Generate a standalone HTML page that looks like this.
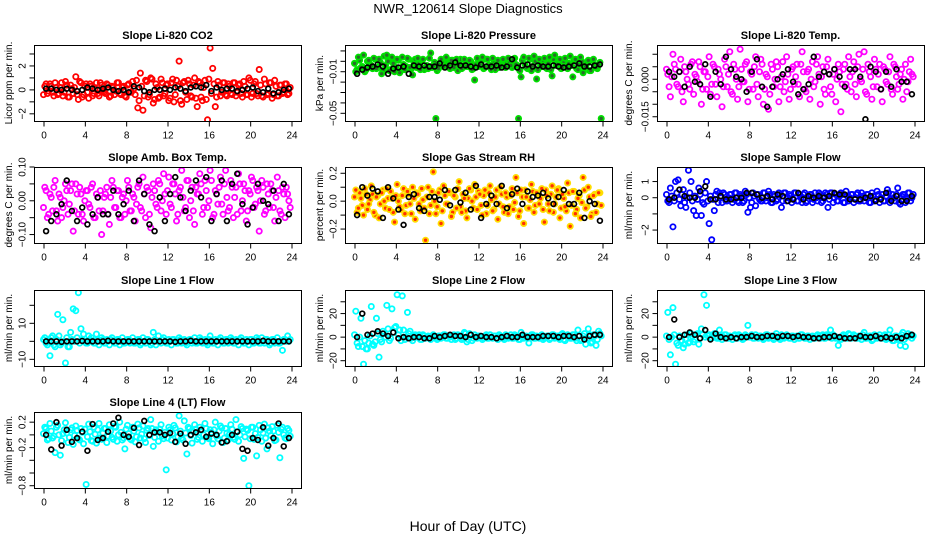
<!DOCTYPE html>
<html><head><meta charset="utf-8">
<style>
html,body{margin:0;padding:0;background:#fff;}
svg{display:block;font-family:"Liberation Sans",Arial,sans-serif;}
</style></head>
<body>
<svg id="chart" width="936" height="540" xmlns="http://www.w3.org/2000/svg">
<rect x="0" y="0" width="936" height="540" fill="#fff"/>
<text x="468" y="13" text-anchor="middle" font-size="13">NWR_120614  Slope Diagnostics</text>
<text x="468" y="531" text-anchor="middle" font-size="14">Hour of Day (UTC)</text>
</svg>
<script>
// shared hour arrays
const hoursColor = [0.125,0.375,0.625,0.875,1.125,1.375,1.625,1.875,2.125,2.375,2.625,2.875,3.125,3.375,3.625,3.875,4.125,4.375,4.625,4.875,5.125,5.375,5.625,5.875,6.125,6.375,6.625,6.875,7.125,7.375,7.625,7.875,8.125,8.375,8.625,8.875,9.125,9.375,9.625,9.875,10.125,10.375,10.625,10.875,11.125,11.375,11.625,11.875,12.125,12.375,12.625,12.875,13.125,13.375,13.625,13.875,14.125,14.375,14.625,14.875,15.125,15.375,15.625,15.875,16.125,16.375,16.625,16.875,17.125,17.375,17.625,17.875,18.125,18.375,18.625,18.875,19.125,19.375,19.625,19.875,20.125,20.375,20.625,20.875,21.125,21.375,21.625,21.875,22.125,22.375,22.625,22.875,23.125,23.375,23.625,23.875];
const hoursColor2 = [0.0,0.25,0.5,0.75,1.0,1.25,1.5,1.75,2.0,2.25,2.5,2.75,3.0,3.25,3.5,3.75,4.0,4.25,4.5,4.75,5.0,5.25,5.5,5.75,6.0,6.25,6.5,6.75,7.0,7.25,7.5,7.75,8.0,8.25,8.5,8.75,9.0,9.25,9.5,9.75,10.0,10.25,10.5,10.75,11.0,11.25,11.5,11.75,12.0,12.25,12.5,12.75,13.0,13.25,13.5,13.75,14.0,14.25,14.5,14.75,15.0,15.25,15.5,15.75,16.0,16.25,16.5,16.75,17.0,17.25,17.5,17.75,18.0,18.25,18.5,18.75,19.0,19.25,19.5,19.75,20.0,20.25,20.5,20.75,21.0,21.25,21.5,21.75,22.0,22.25,22.5,22.75,23.0,23.25,23.5,23.75];
const hoursBlack = [0.25,0.75,1.25,1.75,2.25,2.75,3.25,3.75,4.25,4.75,5.25,5.75,6.25,6.75,7.25,7.75,8.25,8.75,9.25,9.75,10.25,10.75,11.25,11.75,12.25,12.75,13.25,13.75,14.25,14.75,15.25,15.75,16.25,16.75,17.25,17.75,18.25,18.75,19.25,19.75,20.25,20.75,21.25,21.75,22.25,22.75,23.25,23.75];
const xTicks = [0,4,8,12,16,20,24];

const co2Vals = [0.3,-0.3,0.5,-0.2,0.6,-0.4,0.2,-0.5,0.7,-0.6,0.4,-0.3, 1.1,-0.8,0.6,-0.4,0.5,-0.7,0.3,-0.3,0.6,-0.5,0.4,-0.2, 0.5,-0.6,0.3,-0.4,0.6,-0.3,0.2,-0.5,0.4,-0.2,0.7,-0.4, -1.5,1.4,-1.7,0.8,-0.6,1.0,-1.1,0.5,-0.7,0.9,-0.5,0.4, -0.9,0.6,-1.0,0.8,2.4,-1.2,0.7,-0.8,0.5,-0.6,1.0,-1.4, 0.6,-0.9,0.8,-2.5,3.5,1.8,-1.4,0.7,-0.5,0.6,-0.4,0.5, -0.3,0.6,-0.5,0.4,-0.3,0.7,-0.4,1.0,-0.6,0.5,-0.3,1.7, -0.5,0.9,-0.4,0.6,-0.7,0.8,-0.5,0.4,-0.3,0.5,-0.4,0.2];
const co2Vals2 = [-0.4,0.5,-0.1,0.3,-0.5,0.2,-0.3,0.6,-0.2,0.4,-0.6,0.1, 0.2,-0.4,0.7,-0.6,0.3,-0.2,0.5,-0.5,0.1,-0.3,0.6,-0.1, -0.3,0.4,-0.5,0.2,-0.1,0.6,-0.4,0.3,-0.6,0.5,-0.2,0.1, 0.8,-0.9,0.3,-0.5,0.7,-0.4,0.9,-0.8,0.2,-0.6,0.6,-0.3, 0.5,-0.7,0.9,-0.4,0.3,-0.9,0.6,-0.2,0.8,-0.5,0.4,-0.7, 0.7,-0.6,0.2,-0.8,0.9,-0.3,0.5,-0.6,0.4,-0.2,0.6,-0.5, 0.3,-0.4,0.6,-0.2,0.5,-0.6,0.3,-0.4,0.8,-0.3,0.7,-0.5, 0.4,-0.6,0.5,-0.3,0.6,-0.4,0.3,-0.5,0.4,-0.2,0.5,-0.3];
const co2Mean = [0.1,0.1,0.0,0.0,0.1,0.0,-0.1,0.0,0.2,0.1,0.0,0.1,0.2,0.0,-0.1,0.0,-0.2,0.3,0.2,-0.1,-0.2,0.0,0.0,0.1,0.0,0.2,0.1,-0.1,0.2,0.3,0.2,0.4,-0.1,0.2,0.0,0.1,0.1,-0.1,0.0,0.1,0.2,-0.1,-0.2,0.1,-0.3,-0.2,0.0,0.1];

const presVals = [-0.010,0.004,-0.006,0.006,-0.008,0.001,-0.004,0.003,-0.007,0.002,-0.012,0.005, 0.006,-0.009,0.004,-0.010,0.002,-0.011,0.004,-0.008,0.003,-0.006,-0.013,0.002, 0.003,-0.008,0.002,-0.006,-0.007,0.008,-0.004,-0.055,-0.007,0.002,-0.005,0.004, -0.003,0.001,-0.006,0.002,-0.004,-0.007,0.002,-0.005,0.001,-0.008,-0.018,0.003, -0.003,0.004,-0.006,0.002,-0.004,0.003,-0.008,0.001,-0.005,0.002,-0.006,0.003, -0.004,0.002,-0.003,-0.055,-0.015,0.004,-0.006,0.003,-0.009,0.005,-0.017,0.002, -0.005,0.003,-0.007,0.004,-0.014,0.006,-0.003,0.002,-0.006,0.003,-0.007,0.005, -0.015,0.002,-0.008,0.004,-0.011,-0.005,0.001,-0.009,0.002,-0.006,-0.003,-0.055];
const presVals2 = [-0.002,-0.008,0.001,-0.005,-0.010,0.000,-0.003,-0.007,0.002,-0.006,-0.001,-0.009, -0.004,0.000,-0.008,-0.002,-0.006,0.001,-0.009,-0.003,-0.005,0.002,-0.007,-0.001, -0.006,-0.002,0.001,-0.008,-0.004,0.003,-0.006,-0.001,-0.009,-0.003,0.000,-0.005, -0.002,-0.007,0.001,-0.004,-0.009,0.002,-0.006,-0.002,-0.005,0.000,-0.007,-0.003, -0.005,-0.001,-0.007,0.002,-0.004,-0.008,0.000,-0.003,-0.006,0.001,-0.005,-0.002, -0.001,-0.006,0.003,-0.004,-0.009,0.001,-0.003,-0.007,0.002,-0.005,0.000,-0.008, -0.003,0.001,-0.006,-0.002,-0.008,0.002,-0.004,-0.001,-0.007,0.000,-0.005,-0.002, -0.004,0.001,-0.007,-0.003,0.000,-0.006,-0.002,-0.009,0.001,-0.004,-0.007,-0.001];
const presMean = [-0.012,-0.008,-0.006,-0.005,-0.003,-0.005,-0.012,-0.007,-0.006,-0.005,-0.012,-0.004,-0.005,-0.004,-0.005,-0.005,-0.002,-0.006,-0.004,-0.001,-0.004,-0.004,-0.005,-0.006,-0.003,-0.005,-0.005,-0.004,-0.006,-0.005,0.002,-0.006,-0.004,-0.003,-0.005,-0.004,-0.005,-0.005,-0.004,-0.005,-0.006,-0.005,-0.004,-0.002,-0.005,-0.005,-0.004,-0.003];

const tempVals = [0.002,-0.007,0.010,0.004,-0.003,0.008,-0.009,0.003,-0.002,0.006,-0.006,0.001, 0.007,-0.010,0.003,-0.004,0.009,-0.002,0.005,-0.007,0.002,-0.011,0.008,-0.003, 0.011,-0.006,0.004,-0.008,0.012,-0.001,0.006,-0.009,0.003,-0.004,0.009,-0.007, 0.008,-0.010,0.002,-0.012,0.006,-0.003,0.007,-0.009,0.001,-0.005,0.009,-0.008, 0.004,-0.002,0.006,-0.007,0.011,-0.004,0.003,-0.008,0.007,-0.001,0.009,-0.010, 0.005,-0.006,0.008,-0.003,0.002,-0.009,0.006,-0.013,0.004,-0.002,0.009,-0.005, 0.007,-0.007,0.010,-0.001,0.011,-0.006,0.003,-0.008,0.008,-0.003,0.006,-0.009, 0.004,-0.002,0.009,-0.006,0.005,-0.004,0.002,-0.008,0.006,-0.001,0.008,0.001];
const tempVals2 = [0.004,-0.003,0.001,0.006,-0.002,0.003,-0.005,0.005,0.000,-0.004,0.007,0.002, -0.001,0.005,-0.004,0.003,0.001,-0.006,0.006,-0.002,0.004,0.000,-0.003,0.005, 0.002,-0.005,0.006,0.000,-0.003,0.004,-0.001,0.007,-0.004,0.002,0.005,-0.002, 0.003,0.006,-0.004,0.001,-0.006,0.004,0.000,0.005,-0.003,0.007,-0.001,0.002, -0.004,0.005,0.001,-0.002,0.006,0.003,-0.005,0.004,0.000,-0.003,0.006,0.002, 0.001,-0.004,0.005,0.002,-0.006,0.004,0.000,0.003,-0.002,0.006,-0.004,0.001, 0.003,-0.002,0.005,0.000,0.004,-0.005,0.006,0.001,-0.003,0.004,0.002,-0.004, 0.005,-0.001,0.003,-0.004,0.006,0.001,-0.002,0.004,0.000,-0.005,0.003,0.002];
const tempMean = [0.003,0.001,0.003,-0.003,0.005,-0.001,-0.002,0.006,-0.007,0.003,-0.002,0.009,0.004,0.001,0.000,-0.005,0.003,0.008,-0.003,-0.011,-0.003,0.000,0.002,0.004,-0.001,-0.006,-0.004,-0.002,0.009,0.001,0.003,0.002,0.004,0.001,-0.003,0.004,0.004,0.001,-0.016,0.005,0.003,-0.004,0.003,-0.003,0.004,-0.001,-0.001,-0.006];

const ambVals = [0.04,-0.05,0.02,-0.03,0.06,-0.06,0.01,-0.02,0.05,-0.04,0.03,-0.09, 0.05,-0.04,0.02,-0.06,0.03,-0.01,0.04,-0.05,0.02,-0.03,-0.10,0.01, 0.04,-0.07,0.06,-0.02,0.03,-0.05,0.01,-0.04,0.06,-0.03,0.02,-0.06, 0.04,-0.02,0.07,-0.05,0.03,-0.08,0.05,-0.01,0.06,-0.03,0.08,-0.04, 0.07,-0.02,0.05,-0.06,0.03,0.09,-0.03,0.06,-0.05,0.04,-0.07,0.02, 0.08,-0.04,0.06,-0.02,0.09,-0.05,0.03,-0.01,0.07,-0.04,0.09,-0.03, 0.06,-0.05,0.04,0.08,-0.03,0.05,-0.06,0.03,0.07,-0.02,0.04,-0.09, 0.06,-0.04,0.05,-0.02,0.03,-0.06,0.07,-0.03,0.04,-0.05,0.02,-0.02];
const ambVals2 = [-0.02,0.03,-0.04,0.01,0.04,-0.03,0.02,-0.05,0.00,0.03,-0.01,0.05, -0.03,0.02,0.04,-0.04,0.00,0.03,-0.02,0.05,-0.05,0.01,0.03,-0.03, 0.02,-0.04,0.01,0.04,-0.02,0.03,-0.05,0.02,0.00,0.04,-0.03,0.01, -0.01,0.05,-0.03,0.02,0.04,-0.04,0.01,0.03,-0.02,0.05,0.00,0.02, 0.03,-0.01,0.05,0.02,-0.04,0.04,0.01,-0.02,0.06,0.00,-0.03,0.04, 0.02,0.05,-0.02,0.03,0.00,0.06,-0.04,0.02,0.04,-0.01,0.05,0.01, -0.02,0.04,0.01,-0.04,0.05,0.00,0.03,-0.03,0.02,0.06,-0.01,0.03, 0.00,0.04,-0.03,0.02,0.05,-0.02,0.01,0.03,-0.04,0.02,0.04,0.00];
const ambMean = [-0.09,-0.06,-0.04,-0.01,0.06,-0.03,-0.06,-0.02,-0.07,-0.04,0.01,-0.04,-0.04,0.03,-0.04,-0.01,0.03,-0.06,0.06,0.02,-0.07,-0.09,0.01,-0.06,0.02,0.07,0.01,-0.03,0.03,0.06,0.01,0.07,-0.06,0.02,0.06,-0.06,0.05,0.08,-0.01,-0.07,-0.02,0.05,0.00,-0.01,0.03,-0.06,0.05,-0.04];

const rhVals = [0.08,-0.05,0.02,-0.10,0.05,-0.02,0.11,-0.08,0.03,-0.12,0.06,0.00, 0.09,-0.06,0.02,-0.15,0.12,-0.04,0.04,-0.09,0.07,-0.02,0.10,-0.13, 0.05,-0.07,0.01,-0.28,0.10,-0.03,0.21,-0.09,0.06,-0.16,0.11,-0.02, 0.07,-0.11,0.04,-0.05,0.14,-0.08,0.02,-0.12,0.09,0.00,0.12,-0.06, 0.05,-0.10,0.08,-0.03,0.11,-0.07,0.03,-0.13,0.10,-0.04,0.06,-0.09, 0.04,-0.06,0.17,-0.11,0.08,-0.16,0.03,-0.05,0.12,-0.08,0.06,-0.02, 0.09,-0.15,0.04,-0.07,0.11,-0.02,0.08,-0.12,0.05,-0.04,0.13,-0.18, 0.07,-0.09,0.02,-0.12,0.17,-0.05,0.10,-0.11,0.04,-0.08,0.06,-0.03];
const rhVals2 = [0.03,-0.08,0.06,-0.03,0.09,-0.06,0.01,0.05,-0.10,0.04,-0.02,0.08, -0.05,0.02,0.07,-0.08,0.04,0.00,-0.06,0.09,-0.03,0.05,-0.09,0.02, 0.06,-0.02,0.09,-0.05,0.03,-0.09,0.07,0.00,-0.04,0.08,-0.07,0.04, -0.02,0.06,-0.08,0.03,0.09,-0.04,0.05,-0.07,0.02,0.08,-0.05,0.03, 0.07,-0.03,0.04,-0.09,0.06,0.01,-0.06,0.08,-0.02,0.05,-0.08,0.03, -0.04,0.09,-0.01,0.06,-0.07,0.03,0.08,-0.05,0.01,0.07,-0.03,0.05, 0.02,-0.06,0.08,-0.02,0.05,-0.08,0.03,0.09,-0.05,0.02,-0.07,0.06, -0.03,0.07,-0.06,0.04,-0.01,0.08,-0.04,0.03,-0.09,0.05,-0.02,0.06];
const rhMean = [-0.10,0.10,0.04,0.09,0.07,-0.12,0.10,0.02,-0.06,-0.17,0.03,0.05,-0.05,-0.07,0.03,0.03,0.01,0.08,-0.03,0.08,-0.01,0.06,-0.06,0.11,-0.12,-0.02,0.04,-0.02,0.11,-0.05,0.05,0.09,-0.02,0.07,0.03,0.04,0.06,0.02,-0.02,0.03,0.08,-0.02,-0.02,0.06,-0.12,0.00,-0.02,-0.14];

const sampVals = [-0.2,0.6,-1.8,1.0,1.1,-0.5,0.5,-0.6,1.7,1.0,-0.8,-1.1, 0.6,-1.1,-0.4,1.0,-1.6,-2.6,-0.8,0.4,0.3,-0.3,0.2,-0.2, 0.2,-0.3,0.3,-0.2,0.2,-0.3,0.4,-0.9,-0.6,0.3,-0.5,0.2, -0.2,0.3,-0.2,0.4,-0.3,0.2,-0.2,0.3,-0.6,0.3,-0.2,0.2, -0.3,0.3,-0.2,0.2,-0.3,0.3,-0.2,0.2,-0.3,0.3,-0.2,0.2, -0.2,0.3,-0.6,0.3,-0.3,0.2,-0.2,0.3,-0.3,0.4,-0.2,0.2, -0.3,0.2,-0.2,0.3,-0.2,0.2,-0.3,0.3,-0.2,0.4,-0.3,0.2, -0.2,0.5,-0.3,0.2,-0.2,0.6,-0.4,0.2,-0.3,0.3,-0.2,0.2];
const sampVals2 = [0.2,-0.3,0.1,-0.2,0.3,-0.1,0.2,-0.3,0.0,0.3,-0.2,0.1, -0.1,0.2,-0.3,0.3,-0.2,0.1,-0.1,0.2,-0.3,0.1,0.3,-0.2, 0.0,0.2,-0.1,0.3,-0.3,0.1,-0.2,0.2,0.0,-0.3,0.1,0.2, -0.1,-0.2,0.3,0.0,0.2,-0.3,0.1,-0.1,0.2,-0.2,0.3,0.0, 0.1,-0.1,0.3,-0.2,0.0,0.2,-0.3,0.1,0.2,-0.1,0.0,0.3, -0.3,0.1,0.2,-0.1,0.3,0.0,-0.2,0.1,0.2,-0.3,0.1,0.0, 0.2,-0.1,0.3,-0.2,0.1,0.0,0.2,-0.3,0.1,-0.1,0.2,0.0, -0.2,0.1,0.3,-0.1,0.0,0.2,-0.3,0.1,0.2,-0.1,0.3,0.0];
const sampMean = [-0.1,0.0,0.5,0.1,0.0,0.0,0.4,0.7,-0.1,-0.1,0.1,-0.1,-0.1,0.0,0.0,0.3,0.3,0.2,0.0,0.1,-0.1,0.2,0.1,-0.2,-0.1,0.3,-0.1,0.1,0.0,0.1,0.0,0.1,0.3,0.2,0.2,-0.1,-0.1,-0.1,0.0,0.1,-0.2,-0.1,0.3,-0.2,0.1,-0.2,-0.2,0.1];

const l1Vals = [2,-2,-8,3,-3,15,-2,12,-12,-3,5,18, 17,27,7,4,-1,3,2,-1,4,-2,2,-1, 1,-2,2,-1,1,-2,2,-1,1,-1,2,-1, 1,-2,2,-1,1,-2,5,-2,3,-1,2,-1, 1,-2,1,-1,2,-1,1,-2,1,-1,2,-1, 2,-1,1,-2,3,-1,1,-2,2,-1,1,-1, 2,-1,1,-2,2,-1,1,-2,1,-1,2,-1, 2,-1,1,-2,1,-1,2,-1,-5,1,3,1];
const l1Vals2 = [1,-1,0,2,-2,1,3,-1,0,2,-3,1, 0,2,-1,1,0,-1,1,0,-1,1,0,1, -1,0,1,0,-1,1,0,-1,0,1,0,-1, 0,1,-1,0,1,0,-1,1,0,0,1,0, -1,0,1,0,-1,1,0,-1,0,1,0,-1, 0,1,0,-1,1,0,-1,0,1,0,-1,1, 0,1,-1,0,1,0,-1,0,1,-1,0,1, -1,0,1,0,-1,1,0,-1,0,1,0,0];
const l1Mean = [0,0,0,-0.3,0,0,0,0.2,0,0,0,0,0.3,0,0,0,0,0,0,0,0,0,0,0,0,-0.3,0,0,0.3,0,0,0,0,0,0,0,0,0,0,0,0,0,0.3,0,0,0,0,0];

const l2Vals = [22,-8,16,-23,-10,-5,26,-7,16,-17,-4,3, 27,-3,24,8,36,6,35,-2,21,5,-3,2, 1,-2,2,-1,1,-2,2,-1,1,-1,2,-1, 1,-2,2,-1,1,-2,4,-4,3,-3,2,-1, 1,-2,1,-1,2,-1,1,-2,1,-1,2,-1, 2,-1,1,-2,4,-1,1,-5,2,-1,1,-1, 2,-1,1,-2,2,-1,1,-2,3,-3,2,-1, 2,-1,6,-3,1,-6,7,-5,2,-7,5,1];
const l2Vals2 = [2,-5,0,-8,-3,-10,1,-6,-4,3,-2,5, 0,7,-1,4,9,2,-3,6,0,3,-1,1, 0,2,-2,1,0,-1,1,0,-2,1,0,2, -1,0,1,-2,2,0,-1,3,-2,2,-1,0, 1,0,-1,2,-1,0,1,-1,2,0,-2,1, 0,-1,2,0,-2,1,0,-1,1,2,-1,0, 1,-2,0,1,-1,2,0,-1,2,-2,1,0, -1,2,-3,1,-2,3,-1,2,-4,1,-2,3];
const l2Mean = [0,20,2,3,5,3,1,4,-1,0,-1,0,0,-1,-1,1,0,1,2,1,1,0,2,0,1,0,0,-1,0,1,0,0,2,0,0,0,1,1,1,0,1,1,0,1,-2,1,2,2];

const l3Vals = [21,-15,25,-23,-7,-3,-9,-2,-5,3,-4,2, -6,7,36,27,2,-1,3,-1,6,-2,2,-1, 1,-2,2,-1,1,-2,2,10,1,-1,2,-1, 1,-2,2,-1,1,-2,3,-1,2,-1,2,-1, 1,-2,1,-1,2,-1,1,-2,1,-1,2,-1, 2,-1,1,6,2,-1,-7,-2,2,-1,3,-1, 2,-1,1,-2,4,-1,1,-3,2,-1,2,-1, 2,-1,6,-3,1,-2,-7,4,-8,3,2,1];
const l3Vals2 = [1,-2,0,2,-5,1,-3,-6,2,-4,1,-2, 3,-1,2,0,1,-1,2,0,-1,1,0,2, -1,0,1,-1,2,0,-1,1,0,2,-1,0, 1,0,-1,2,0,-1,1,0,-2,1,0,1, -1,1,0,-1,2,0,-1,1,0,-1,1,0, 1,-1,2,0,-1,1,0,-2,1,0,-1,2, 0,1,-1,0,2,-1,0,1,-2,1,0,-1, 1,-2,2,0,-3,1,-1,2,-2,0,1,-1];
const l3Mean = [0,15,0,2,4,2,-1,6,-2,3,0,-1,0,-1,0,0,1,0,0,1,1,0,1,1,0,1,0,0,-1,-1,0,0,1,0,-1,-1,-1,1,0,0,1,-1,0,-1,0,-1,1,2];

const l4Vals = [0.12,-0.08,0.18,-0.05,-0.28,0.15,-0.32,0.02,0.19,-0.12,0.08,-0.15, 0.14,-0.06,0.10,-0.14,-0.78,0.17,-0.09,0.12,-0.13,0.18,-0.07,0.10, -0.12,0.16,-0.04,0.13,-0.10,0.20,-0.08,-0.22,0.15,-0.06,0.12,-0.11, 0.17,-0.05,0.14,-0.12,0.10,0.24,-0.18,0.08,-0.10,0.16,-0.06,-0.55, 0.12,-0.08,0.15,-0.11,0.30,-0.05,0.22,-0.30,0.10,-0.13,0.16,-0.07, 0.12,-0.10,0.18,-0.05,0.08,-0.14,0.20,-0.06,0.14,-0.12,0.10,-0.08, 0.16,-0.04,0.24,-0.10,0.13,-0.37,0.09,-0.80,0.12,-0.07,-0.33,0.15, -0.10,0.17,-0.22,0.06,0.13,-0.09,0.15,-0.36,0.12,-0.05,0.10,-0.02];
const l4Vals2 = [0.02,0.10,-0.06,0.06,-0.02,0.12,0.00,-0.09,0.08,0.03,-0.04,0.11, -0.01,0.07,-0.08,0.04,0.09,-0.03,0.05,-0.10,0.01,0.08,-0.05,0.03, 0.10,-0.02,0.06,-0.07,0.12,0.00,0.04,-0.05,0.09,0.02,-0.08,0.06, -0.03,0.11,0.01,-0.06,0.07,-0.01,0.10,-0.04,0.05,0.09,-0.02,0.04, -0.05,0.08,0.02,0.11,-0.03,0.06,-0.08,0.03,0.12,-0.01,0.05,0.09, -0.04,0.07,0.00,0.10,-0.06,0.04,0.08,-0.02,0.06,0.11,-0.05,0.03, 0.01,0.09,-0.07,0.05,0.00,0.10,-0.03,0.07,-0.06,0.12,0.02,-0.04, 0.08,0.03,-0.05,0.11,-0.01,0.06,-0.08,0.04,0.09,0.00,-0.06,0.07];
const l4Mean = [0.0,-0.23,0.20,-0.17,0.08,-0.11,-0.05,0.05,-0.25,0.17,-0.08,-0.05,0.05,0.18,0.27,0.0,-0.03,0.11,-0.16,0.22,0.0,0.04,0.04,0.0,0.03,-0.11,0.02,-0.14,0.0,0.04,0.08,-0.03,0.02,0.0,-0.12,-0.10,0.00,0.05,-0.22,-0.25,-0.05,-0.08,0.12,-0.17,-0.05,0.18,-0.18,-0.05];

const NS = "http://www.w3.org/2000/svg";
const svg = document.getElementById('chart');
function mk(tag, attrs, parent) {
  const e = document.createElementNS(NS, tag);
  for (const k in attrs) e.setAttribute(k, attrs[k]);
  (parent || svg).appendChild(e);
  return e;
}
const colLeft = [34, 345, 657];
const rowTop = [45, 167, 290, 412];
const BW = 267, BH = 76;

const panels = [
 {key:'co2', title:'Slope Li-820 CO2', ylab:'Licor ppm per min.', c:0, r:0, lo:-2.6, hi:3.75, ticks:[-2,-1,0,1,2,3], labs:{'-2':'\u22122','0':'0','2':'2'}, color:'#ff0000', vals:co2Vals, vals2:co2Vals2, mean:co2Mean},
 {key:'pressure', title:'Slope Li-820 Pressure', ylab:'kPa per min.', c:1, r:0, lo:-0.0574, hi:0.0157, ticks:[0.01,0,-0.01,-0.02,-0.03,-0.04,-0.05], labs:{'-0.01':'\u22120.01','-0.05':'\u22120.05'}, color:'#00e000', inner:'#2a6a2a', vals:presVals, vals2:presVals2, mean:presMean},
 {key:'temp', title:'Slope Li-820 Temp.', ylab:'degrees C per min.', c:2, r:0, lo:-0.0167, hi:0.0137, ticks:[0.01,0.005,0,-0.005,-0.01,-0.015], labs:{'0':'0.000','-0.015':'\u22120.015'}, color:'#ff00ff', vals:tempVals, vals2:tempVals2, mean:tempMean},
 {key:'amb-temp', title:'Slope Amb. Box Temp.', ylab:'degrees C per min.', c:0, r:1, lo:-0.125, hi:0.10, ticks:[0.1,0.05,0,-0.05,-0.1], labs:{'0.1':'0.10','0':'0.00','-0.1':'\u22120.10'}, color:'#ff00ff', vals:ambVals, vals2:ambVals2, mean:ambMean},
 {key:'rh', title:'Slope Gas Stream RH', ylab:'percent per min.', c:1, r:1, lo:-0.3, hi:0.245, ticks:[0.2,0.1,0,-0.1,-0.2], labs:{'0.2':'0.2','0':'0.0','-0.2':'\u22120.2'}, color:'#ffdd00', inner:'#ff3000', vals:rhVals, vals2:rhVals2, mean:rhMean},
 {key:'sample-flow', title:'Slope Sample Flow', ylab:'ml/min per min.', c:2, r:1, lo:-2.8, hi:1.9, ticks:[1,0,-1,-2], labs:{'1':'1','0':'0','-2':'\u22122'}, color:'#0000ff', vals:sampVals, vals2:sampVals2, mean:sampMean},
 {key:'line1-flow', title:'Slope Line 1 Flow', ylab:'ml/min per min.', c:0, r:2, lo:-13.7, hi:28.5, ticks:[20,10,0,-10], labs:{'10':'10','-10':'\u221210'}, color:'#00ffff', vals:l1Vals, vals2:l1Vals2, mean:l1Mean},
 {key:'line2-flow', title:'Slope Line 2 Flow', ylab:'ml/min per min.', c:1, r:2, lo:-24.5, hi:40, ticks:[30,20,10,0,-10,-20], labs:{'20':'20','0':'0','-20':'\u221220'}, color:'#00ffff', vals:l2Vals, vals2:l2Vals2, mean:l2Mean},
 {key:'line3-flow', title:'Slope Line 3 Flow', ylab:'ml/min per min.', c:2, r:2, lo:-24.5, hi:40, ticks:[30,20,10,0,-10,-20], labs:{'20':'20','0':'0','-20':'\u221220'}, color:'#00ffff', vals:l3Vals, vals2:l3Vals2, mean:l3Mean},
 {key:'line4-flow', title:'Slope Line 4 (LT) Flow', ylab:'ml/min per min.', c:0, r:3, lo:-0.836, hi:0.36, ticks:[0.2,0,-0.2,-0.4,-0.6,-0.8], labs:{'0.2':'0.2','-0.2':'\u22120.2','-0.8':'\u22120.8'}, color:'#00ffff', vals:l4Vals, vals2:l4Vals2, mean:l4Mean}
];

panels.forEach(p => {
  const L = colLeft[p.c], T = rowTop[p.r];
  const g = mk('g', {});
  
  
  const xs = h => L + 9.5 + h * (248 / 24);
  const ys = v => T + BH - (v - p.lo) / (p.hi - p.lo) * BH;

  const title = mk('text', {x: L + BW / 2, y: T - 6, 'text-anchor': 'middle', 'font-size': 11, 'font-weight': 'bold'}, g);
  title.textContent = p.title;
  
  

  const cx = [12, 323, 632][p.c];
  const yl = mk('text', {x: cx, y: T + BH / 2, 'text-anchor': 'middle', 'font-size': 10, transform: 'rotate(-90 ' + cx + ' ' + (T + BH / 2) + ')'}, g);
  yl.textContent = p.ylab;
  
  

  const cid = 'clip-' + p.key;
  const cp = mk('clipPath', {id: cid}, g);
  mk('rect', {x: L, y: T, width: BW, height: BH}, cp);
  const pts = mk('g', {'clip-path': 'url(#' + cid + ')'}, g);
  
  

  const drawSet = (hrs, vals) => {
    const n = Math.min(hrs.length, vals.length);
    for (let i = 0; i < n; i++) {
      const c = mk('circle', {cx: xs(hrs[i]), cy: ys(vals[i]), r: 2.6, fill: p.inner ? p.inner : 'none', stroke: p.color, 'stroke-width': 1.8}, pts);
      
      
    }
  };
  drawSet(hoursColor2, p.vals2);
  drawSet(hoursColor, p.vals);

  const m = Math.min(hoursBlack.length, p.mean.length);
  for (let i = 0; i < m; i++) {
    const c = mk('circle', {cx: xs(hoursBlack[i]), cy: ys(p.mean[i]), r: 2.4, fill: 'none', stroke: '#000', 'stroke-width': 1.7}, pts);
    
    
  }

  const box = mk('rect', {x: L + 0.5, y: T + 0.5, width: BW, height: BH, fill: 'none', stroke: '#000', 'stroke-width': 1}, g);
  
  

  const xa = mk('g', {}, g);
  
  
  const yb = T + BH + 0.5;
  mk('line', {x1: xs(0), x2: xs(24), y1: yb, y2: yb, stroke: '#000'}, xa);
  xTicks.forEach(t => {
    mk('line', {x1: xs(t) + 0.5, x2: xs(t) + 0.5, y1: yb, y2: yb + 5, stroke: '#000'}, xa);
    const tl = mk('text', {x: xs(t) + 0.5, y: yb + 17, 'text-anchor': 'middle', 'font-size': 10}, xa);
    tl.textContent = String(t);
    
    
  });

  const ya = mk('g', {}, g);
  
  
  const xl = L + 0.5;
  p.ticks.forEach(t => {
    const y = ys(t);
    mk('line', {x1: xl - 5, x2: xl, y1: y, y2: y, stroke: '#000'}, ya);
    const lab = p.labs[String(t)];
    if (lab) {
      const lx = xl - 9;
      const tl = mk('text', {x: lx, y: y, 'text-anchor': 'middle', 'font-size': 10, transform: 'rotate(-90 ' + lx + ' ' + y + ')'}, ya);
      tl.textContent = lab;
      
      
    }
  });
});
</script>
</body></html>
